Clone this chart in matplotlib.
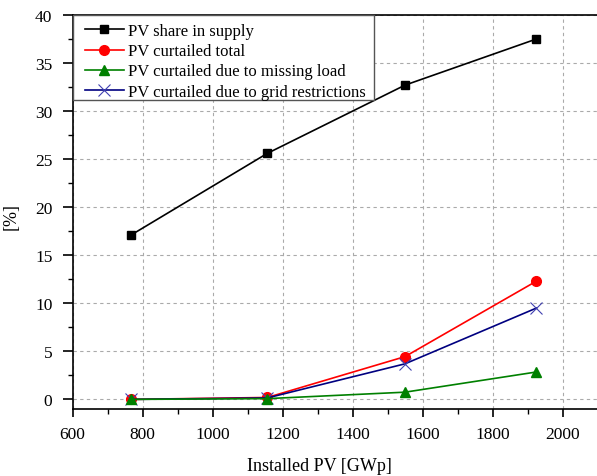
import matplotlib
matplotlib.use('Agg')
import matplotlib.pyplot as plt
from matplotlib.ticker import MultipleLocator
from matplotlib.lines import Line2D
from matplotlib.legend_handler import HandlerLine2D

# Werte
installed_pv = [767, 1156, 1549, 1924]
pv_share = [17.1, 25.6, 32.7, 37.5]
curtailed_total = [0.0, 0.2, 4.45, 12.3]
curtailed_load = [0.0, 0.08, 0.75, 2.85]
curtailed_grid = [0.0, 0.15, 3.7, 9.5]

plt.rcParams['font.family'] = ['Liberation Serif', 'DejaVu Serif']

fig = plt.figure(figsize=(5.97, 4.77), dpi=100)
ax = fig.add_axes([72.5 / 597, 1 - 410 / 477, (598 - 72.5) / 597, (410 - 16) / 477])

ax.plot(installed_pv, pv_share, color='black', marker='s', markersize=6,
        lw=1.2, label='PV share in supply', zorder=3)
ax.plot(installed_pv, curtailed_total, color='red', marker='o', markersize=7,
        lw=1.2, label='PV curtailed total', zorder=3)
ax.plot(installed_pv, curtailed_load, color='green', marker='^', markersize=7,
        lw=1.2, label='PV curtailed due to missing load', zorder=5)
ax.plot(installed_pv, curtailed_grid, color='#000080', marker='x', markersize=8,
        mec='#4040b0', mew=0.8, lw=1.2,
        label='PV curtailed due to grid restrictions\u00a0\u00a0', zorder=4)

ax.set_xlim(600, 2100)
ax.set_ylim(-1, 40)
ax.xaxis.set_major_locator(MultipleLocator(200))
ax.xaxis.set_minor_locator(MultipleLocator(100))
ax.yaxis.set_major_locator(MultipleLocator(5))
ax.yaxis.set_minor_locator(MultipleLocator(2.5))
ax.tick_params(which='major', direction='out', width=1.2, labelsize=12.5,
               top=False, right=False)
ax.tick_params(axis='x', which='major', length=6, pad=6.5)
ax.tick_params(axis='y', which='major', length=7, pad=7.5)
ax.tick_params(which='minor', direction='out', length=3.5, width=1.0, top=False, right=False)
for s in ax.spines.values():
    s.set_linewidth(1.2)

ax.grid(True, which='major', linestyle=(0, (3, 3)), color='#aaaaaa', lw=0.8)

ax.set_xlabel('Installed PV [GWp]', fontsize=13)
ax.set_ylabel('[%]', fontsize=13)
ax.xaxis.set_label_coords(0.470, -0.123)
ax.yaxis.set_label_coords(-0.100, 0.49)

# leerer Titel nur als Abstand oben in der Legende
leg = ax.legend(loc='upper left', fontsize=12, borderaxespad=0, fancybox=False,
                framealpha=1, edgecolor='#555555', handlelength=3.07,
                labelspacing=0.25, borderpad=0.0, handletextpad=0.26,
                title=' ', title_fontsize=3,
                handler_map={Line2D: HandlerLine2D(xpad=0.74)})
leg.get_frame().set_linewidth(1.0)

plt.savefig('out.png', dpi=100)
